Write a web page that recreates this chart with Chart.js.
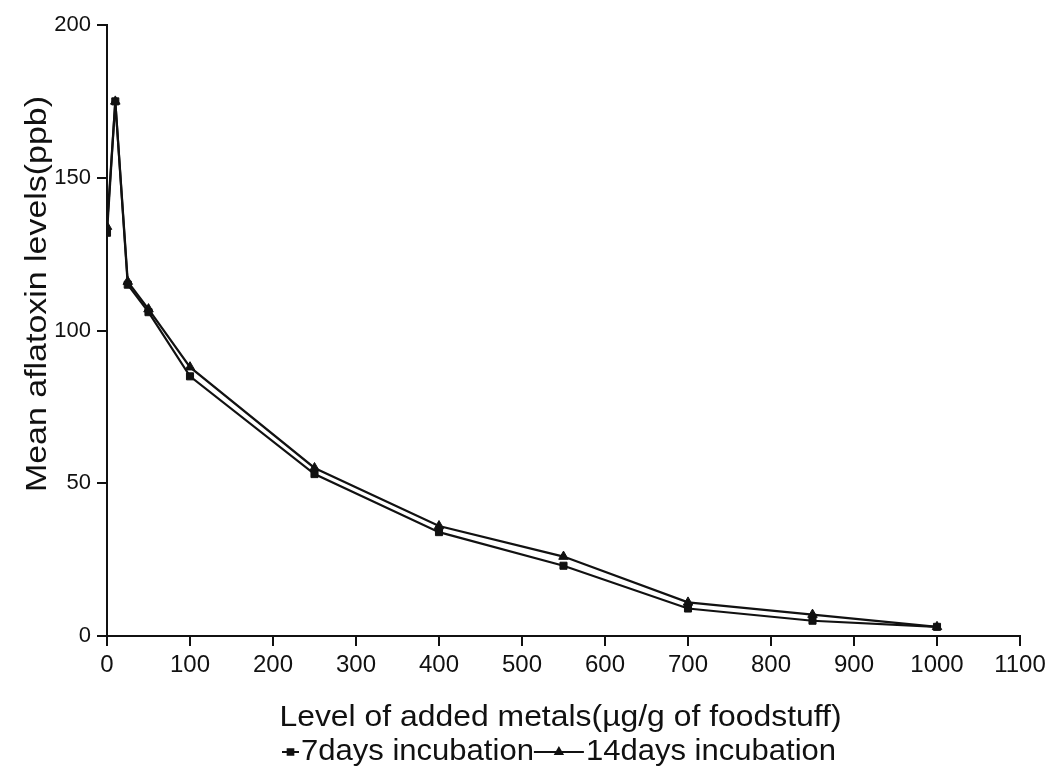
<!DOCTYPE html>
<html>
<head>
<meta charset="utf-8">
<script src="https://cdn.jsdelivr.net/npm/chart.js@4/dist/chart.umd.min.js"></script>
<style>
  html, body { margin: 0; padding: 0; background: #ffffff; }
  #wrap { width: 1053px; height: 773px; }
</style>
</head>
<body>
<div id="wrap"><canvas id="c" width="1053" height="773"></canvas></div>
<script>
// Metal levels (µg/g of foodstuff) and mean aflatoxin levels (ppb)
const metalLevels = [0, 10, 25, 50, 100, 250, 400, 550, 700, 850, 1000];
const days7 = [132, 175, 115, 106, 85, 53, 34, 23, 9, 5, 3];
const days14 = [134, 175, 116, 107, 88, 55, 36, 26, 11, 7, 3];
const seriesLabels = ['7days incubation', '14days incubation'];
const xTitle = 'Level of added metals(\u00b5g/g of foodstuff)';
const yTitle = 'Mean aflatoxin levels(ppb)';

const FONT = '"Liberation Sans", Arial, sans-serif';

const toPoints = (ys) => metalLevels.map((x, i) => ({ x, y: ys[i] }));

// Writes text stretched horizontally by sx, anchored at its left edge
function stretchedText(ctx, text, x, y, sx) {
  ctx.save();
  ctx.translate(x, y);
  ctx.scale(sx, 1);
  ctx.fillText(text, 0, 0);
  ctx.restore();
  return ctx.measureText(text).width * sx;
}

// Draws axis titles and a line-marker-line legend below the plot
const titlesAndLegend = {
  id: 'titlesAndLegend',
  afterDraw(chart) {
    const ctx = chart.ctx;
    const area = chart.chartArea;
    ctx.save();
    ctx.fillStyle = '#111';
    ctx.textBaseline = 'middle';
    ctx.textAlign = 'left';

    // x-axis title
    ctx.font = '29px ' + FONT;
    const sxT = 1.1;
    const wX = ctx.measureText(xTitle).width * sxT;
    stretchedText(ctx, xTitle, (area.left + area.right) / 2 - wX / 2 - 3, 718, sxT);

    // y-axis title
    ctx.save();
    ctx.translate(38, 294);
    ctx.rotate(-Math.PI / 2);
    const wY = ctx.measureText(yTitle).width * 1.17;
    stretchedText(ctx, yTitle, -wY / 2, 0, 1.17);
    ctx.restore();

    // legend
    ctx.font = '29px ' + FONT;
    const y = 752;
    let x = 282;
    const segs = [17, 50];
    chart.data.datasets.forEach((ds, i) => {
      const segW = segs[i];
      ctx.strokeStyle = '#111';
      ctx.lineWidth = 2;
      ctx.beginPath();
      ctx.moveTo(x, y);
      ctx.lineTo(x + segW, y);
      ctx.stroke();
      Chart.helpers.drawPoint(ctx, {
        pointStyle: ds.pointStyle,
        radius: 4,
        borderWidth: 1
      }, x + segW / 2, y);
      ctx.fillStyle = '#111';
      x += segW + 2;
      x += stretchedText(ctx, ds.label, x, y, 1.07);
    });
    ctx.restore();
  }
};

new Chart(document.getElementById('c'), {
  type: 'scatter',
  data: {
    datasets: [
      {
        label: seriesLabels[0],
        data: toPoints(days7),
        showLine: true,
        borderColor: '#111',
        backgroundColor: '#111',
        borderWidth: 2.2,
        pointStyle: 'rect',
        pointRadius: 5,
        pointBorderWidth: 1
      },
      {
        label: seriesLabels[1],
        data: toPoints(days14),
        showLine: true,
        borderColor: '#111',
        backgroundColor: '#111',
        borderWidth: 2.2,
        pointStyle: 'triangle',
        pointRadius: 5.5,
        pointBorderWidth: 1
      }
    ]
  },
  options: {
    responsive: false,
    animation: false,
    layout: { padding: { top: 25, right: 33, left: 0, bottom: 0 } },
    plugins: {
      legend: { display: false },
      tooltip: { enabled: false }
    },
    scales: {
      x: {
        type: 'linear',
        min: 0,
        max: 1100,
        afterFit(scale) { scale.height = 773 - 636; },
        border: { color: '#111', width: 2 },
        grid: { drawOnChartArea: false, drawTicks: true, tickLength: 10, color: '#111', lineWidth: 2 },
        ticks: {
          stepSize: 100,
          color: '#111',
          padding: 5,
          font: { family: FONT, size: 24 },
          callback: (v) => String(v)
        }
      },
      y: {
        min: 0,
        max: 200,
        afterFit(scale) { scale.width = 107; },
        border: { color: '#111', width: 2 },
        grid: { drawOnChartArea: false, drawTicks: true, tickLength: 10, color: '#111', lineWidth: 2 },
        ticks: {
          stepSize: 50,
          color: '#111',
          padding: 6,
          font: { family: FONT, size: 22 },
          callback: (v) => String(v)
        }
      }
    }
  },
  plugins: [titlesAndLegend]
});
</script>
</body>
</html>
